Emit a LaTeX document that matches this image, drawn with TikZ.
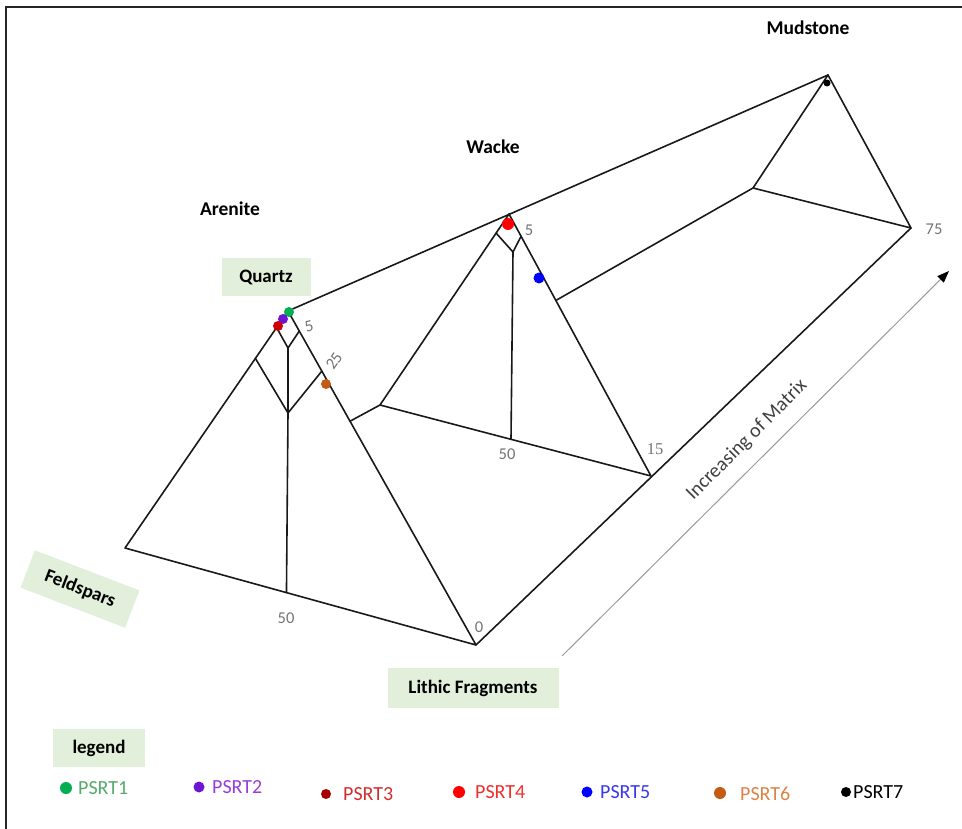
\documentclass[tikz,border=0pt]{standalone}
\usepackage{fontspec}
\setmainfont{Carlito}
\newfontfamily\serifnum{Liberation Serif}
\usetikzlibrary{calc,arrows.meta}
\definecolor{boxgreen}{RGB}{226,239,218}
\definecolor{numgray}{RGB}{115,115,115}
\definecolor{cA}{RGB}{0,176,80}
\definecolor{cAt}{RGB}{85,170,105}
\definecolor{cB}{RGB}{110,20,210}
\definecolor{cBt}{RGB}{150,60,220}
\definecolor{cC}{RGB}{165,0,0}
\definecolor{cCd}{RGB}{205,0,0}
\definecolor{cCt}{RGB}{210,45,45}
\definecolor{cD}{RGB}{255,0,0}
\definecolor{cDt}{RGB}{240,45,45}
\definecolor{cE}{RGB}{0,0,255}
\definecolor{cEt}{RGB}{55,55,240}
\definecolor{cF}{RGB}{197,90,17}
\definecolor{cFt}{RGB}{220,130,70}
\begin{document}
\begin{tikzpicture}[x=1pt,y=-1pt,
  edge/.style={line width=1.6pt,black!90,line cap=round,line join=round},
  lbl/.style={fill=boxgreen,font=\fontsize{19}{21}\selectfont\bfseries,inner sep=0pt},
  title/.style={font=\fontsize{19.5}{21}\selectfont\bfseries},
  num/.style={font=\fontsize{16.5}{18}\selectfont,text=numgray,inner sep=0pt},
  dot/.style={circle,fill,inner sep=0pt,minimum size=#1},
  leg/.style={font=\fontsize{20}{22}\selectfont,anchor=west,inner sep=0pt}]
\useasboundingbox (0,0) rectangle (962,829);
% frame
\draw[line width=1.6pt,black!85] (6,829) -- (6,7) -- (962,7);

% key points
\coordinate (A1) at (288,311);
\coordinate (L1) at (125,548);
\coordinate (R1) at (476,645);
\coordinate (A2) at (509,214);
\coordinate (L2) at (380,405);
\coordinate (R2) at (651,476);
\coordinate (A3) at (828,75);
\coordinate (L3) at (753,188);
\coordinate (R3) at (911,228);

% triangle 1 (Arenite)
\draw[edge] (L1) -- (A1) -- (R1) -- cycle;
\coordinate (M1) at ($(L1)!0.46!(R1)$);
\coordinate (Y1) at (288,413);
\coordinate (y1) at (288,348);
\draw[edge] (M1) -- (Y1) -- (y1);
\draw[edge] ($(A1)!0.2!(L1)$) -- (Y1) -- ($(A1)!0.18!(R1)$);
\draw[edge] ($(A1)!0.07!(L1)$) -- (y1) -- ($(A1)!0.06!(R1)$);
\coordinate (P1) at ($(A1)!0.33!(R1)$);

% triangle 2 (Wacke)
\draw[edge] (L2) -- (A2) -- (R2) -- cycle;
\coordinate (M2) at (511,439);
\coordinate (y2) at (513,252);
\draw[edge] (M2) -- (y2);
\draw[edge] ($(A2)!0.1!(L2)$) -- (y2) -- ($(A2)!0.085!(R2)$);
\draw[edge] (P1) -- (L2);
\coordinate (P2) at ($(A2)!0.33!(R2)$);

% triangle 3 (Mudstone)
\draw[edge] (L3) -- (A3) -- (R3) -- cycle;
\draw[edge] (P2) -- (L3);

% long edges
\draw[edge] (A1) -- (A3);
\draw[edge] (R1) -- (R3);

% arrow
\coordinate (ms) at (562,656);
\coordinate (me) at (949,271);
\draw[black!40,line width=1pt,-{Triangle[length=12pt,width=9pt,fill=black,color=black]}] (ms) -- (me);
\node[font=\fontsize{20}{22}\selectfont,text=black!75,rotate=45] (matrix) at (747,440) {Increasing of Matrix};

% titles
\node[title] (aren) at (230,209) {Arenite};
\node[title] (wack) at (493,147) {Wacke};
\node[title] (muds) at (808,28) {Mudstone};

% corner labels
\node[lbl,minimum width=89pt,minimum height=38pt] (quartz) at (266,277) {Quartz};
\node[lbl,minimum width=112pt,minimum height=40pt,rotate=-21] (felds) at (80,589) {Feldspars};
\node[lbl,minimum width=171pt,minimum height=40pt] (lithic) at (473,688) {Lithic Fragments};
\node[lbl,minimum width=92pt,minimum height=38pt] (legend) at (99,748) {legend};

% numbers
\node[num,rotate=15] (n5a) at (309,326) {5};
\node[num,rotate=55] (n25) at (334,361) {25};
\node[num] (n50a) at (286,618) {50};
\node[num] (n0) at (479,627) {0};
\node[num] (n5b) at (529,230) {5};
\node[num] (n50b) at (507,454) {50};
\node[num,font=\serifnum\fontsize{16.5}{18}\selectfont] (n15) at (655,449) {15};
\node[num] (n75) at (934,229) {75};

% data points
\node[dot=10pt,fill=cA] (dA) at (289,312) {};
\node[dot=10pt,fill=cB] (dB) at (283,319) {};
\node[dot=10pt,fill=cCd] (dC) at (278,326) {};
\node[dot=12pt,fill=cD] (dD) at (508,224) {};
\node[dot=11pt,fill=cE] (dE) at (539,278) {};
\node[dot=10pt,fill=cF] (dF) at (326,384) {};
\node[dot=7pt,fill=black] (dG) at (827,83) {};

% legend entries
\node[dot=12pt,fill=cA] (lA) at (66,788) {};
\node[leg,text=cAt] (tA) at (78,788) {PSRT1};
\node[dot=11pt,fill=cB] (lB) at (199,787) {};
\node[leg,text=cBt] (tB) at (212,787) {PSRT2};
\node[dot=10pt,fill=cC] (lC) at (326,794) {};
\node[leg,text=cCt] (tC) at (343,794) {PSRT3};
\node[dot=12pt,fill=cD] (lD) at (459,792) {};
\node[leg,text=cDt] (tD) at (475,792) {PSRT4};
\node[dot=11pt,fill=cE] (lE) at (587,792) {};
\node[leg,text=cEt] (tE) at (600,792) {PSRT5};
\node[dot=12pt,fill=cF] (lF) at (720,793) {};
\node[leg,text=cFt] (tF) at (740,794) {PSRT6};
\node[dot=10pt,fill=black] (lG) at (846,792) {};
\node[leg,text=black] (tG) at (853,792) {PSRT7};
\end{tikzpicture}
\end{document}
